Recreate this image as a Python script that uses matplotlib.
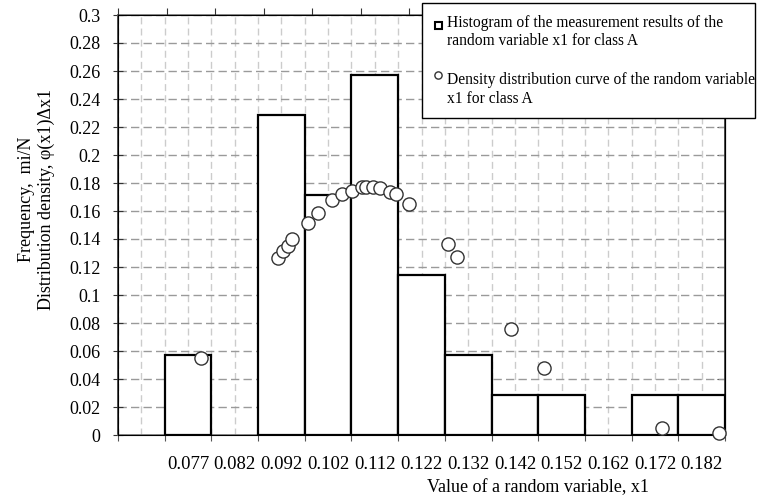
import numpy as np
import matplotlib
matplotlib.use("Agg")
import matplotlib.pyplot as plt
from matplotlib.patches import Rectangle
from matplotlib.legend_handler import HandlerPatch
from matplotlib.ticker import NullFormatter

plt.rcParams["font.family"] = ["Liberation Serif", "DejaVu Serif"]

# histogram: class labels (first interval has no label) and relative frequencies mi/N
bin_labels = ["", "0.077", "0.082", "0.092", "0.102", "0.112", "0.122",
              "0.132", "0.142", "0.152", "0.162", "0.172", "0.182"]
freq = np.array([0, 0.0571, 0, 0.2286, 0.1714, 0.2571, 0.1143,
                 0.0571, 0.0286, 0.0286, 0, 0.0286, 0.0286])

# density curve points phi(x1)*dx1 (secondary axis)
x1_vals = [0.0871, 0.1030, 0.1040, 0.1051, 0.1059, 0.1092, 0.1111, 0.1140,
           0.1161, 0.1182, 0.1202, 0.1211, 0.1226, 0.1240, 0.1260, 0.1272,
           0.1300, 0.1379, 0.1399, 0.1509, 0.1578, 0.1820, 0.1938]
dens = [0.0548, 0.1266, 0.1314, 0.1350, 0.1398, 0.1516, 0.1584, 0.1679,
        0.1721, 0.1745, 0.1774, 0.1774, 0.1774, 0.1762, 0.1738, 0.1721,
        0.1650, 0.1364, 0.1274, 0.0757, 0.0481, 0.0052, 0.0012]

yticks = np.arange(0, 0.301, 0.02)

fig = plt.figure(figsize=(7.61, 4.99), dpi=100)
ax = fig.add_axes([118 / 761, 1 - 435 / 499, 607 / 761, 420 / 499])

pos = np.arange(len(freq)) + 0.5
mask = freq > 0
bars = ax.bar(pos[mask], freq[mask], width=1, color="white",
              edgecolor="black", linewidth=1.6, zorder=3)

ax.set_xlim(0, len(freq))
ax.set_ylim(0, 0.3)
ax.set_xticks(np.arange(0, len(freq) + 1))
ax.set_xticklabels([])
ax.set_xticks(pos, minor=True)
ax.set_xticklabels(bin_labels, minor=True)
ax.tick_params(axis="x", which="major", direction="inout", length=8, color="#555555")
ax.tick_params(axis="x", which="minor", length=0, pad=15, labelsize=13.5)
ax.set_yticks(yticks)
ax.set_yticklabels([f"{round(v, 2):g}" for v in yticks])
ax.tick_params(axis="y", direction="inout", length=7, pad=9, labelsize=13,
               color="#333333")

ax.grid(axis="x", which="both", color="#cccccc", linestyle=(0, (5, 3)), linewidth=1)
ax.grid(axis="y", which="major", color="#9a9a9a", linestyle=(0, (6, 3)), linewidth=1)
ax.set_axisbelow(True)

for side in ["left", "right"]:
    ax.spines[side].set_color("#333333")
for side in ["top", "bottom"]:
    ax.spines[side].set_color("#777777")
for sp in ax.spines.values():
    sp.set_linewidth(1.2)

ax.set_xlabel("Value of a random variable, x1", fontsize=13)
ax.xaxis.set_label_coords(0.692, -0.105)
ax.set_ylabel("Frequency,  mi/N\nDistribution density, φ(x1)Δx1", fontsize=13,
              linespacing=1.25)
ax.yaxis.set_label_coords(-0.103, 0.56)

# right axis with inward ticks only
sec = ax.secondary_yaxis("right")
sec.set_yticks(yticks)
sec.yaxis.set_major_formatter(NullFormatter())
sec.tick_params(axis="y", direction="in", length=6, color="#333333")

# secondary x axis for the density points
ax2 = ax.twiny()
ax2.set_xlim(0.07, 0.195)
ax2.set_xticks(np.arange(0.07, 0.1951, 0.01))
ax2.xaxis.set_major_formatter(NullFormatter())
ax2.tick_params(axis="x", direction="out", length=5, color="#333333")
pts = ax2.scatter(x1_vals, dens, s=90, facecolor="white", edgecolor="#333333",
                  linewidth=1.0, zorder=5, clip_on=False)


def square_top(legend, orig_handle, xdescent, ydescent, width, height, fontsize):
    size = 5
    return Rectangle((-xdescent + (width - size) / 2, -ydescent + height * 0.78 - size / 2),
                     size, size)


box = Rectangle((0, 0), 1, 1, facecolor="white", edgecolor="black", linewidth=1.5)
leg = fig.legend([box, pts],
                 ["Histogram of the measurement results of the\nrandom variable x1 for class A",
                  "Density distribution curve of the random variable\nx1 for class A"],
                 handler_map={Rectangle: HandlerPatch(patch_func=square_top)},
                 loc="upper left", bbox_to_anchor=(422 / 761, 1 - 3 / 499, 333 / 761, 0),
                 mode="expand", fontsize=11.2, frameon=True, fancybox=False,
                 edgecolor="black", framealpha=1, borderpad=0.75, borderaxespad=0,
                 handlelength=0.6, handleheight=2.2, handletextpad=0.25,
                 labelspacing=1.5, scatterpoints=1, scatteryoffsets=[0.78],
                 markerscale=0.55)
leg.get_frame().set_linewidth(1.0)

fig.savefig("out.png", dpi=100)
